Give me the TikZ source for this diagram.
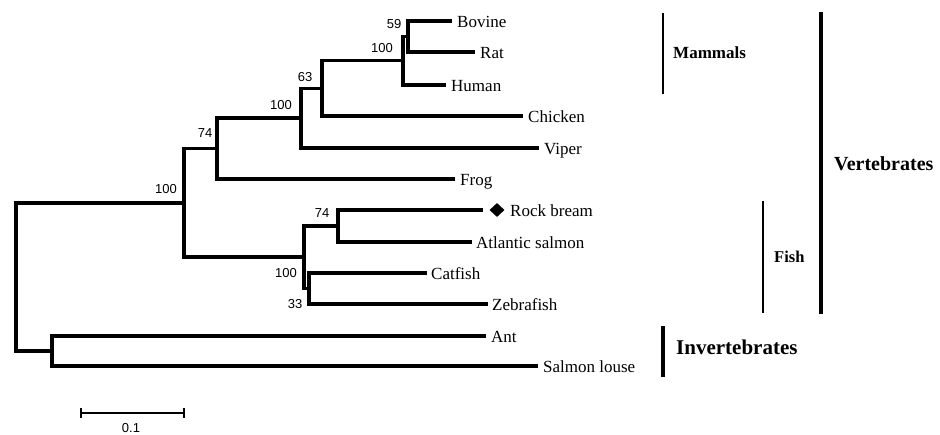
\documentclass[tikz,border=0pt]{standalone}
\usepackage{fontspec}
\setmainfont{Liberation Serif}
\newfontfamily\bsfont{Liberation Sans}
\usetikzlibrary{shapes.geometric}
\begin{document}
\begin{tikzpicture}[x=1pt,y=-1pt,
  br/.style={line width=3.4pt},
  leaf/.style={anchor=west,inner sep=0pt,text height=12pt,text depth=0pt,font=\fontsize{17}{20}\selectfont},
  boot/.style={inner sep=0pt,font=\bsfont\fontsize{13}{15}\selectfont},
  grp/.style={anchor=base west,inner sep=0pt,font=\bfseries\fontsize{#1}{#1}\selectfont},
  thinbar/.style={line width=2.2pt},
  thickbar/.style={line width=3.8pt}
]
\useasboundingbox (0,0) rectangle (940,434);

% internal nodes
\coordinate (nBR)   at (408,36.5);
\coordinate (nMam)  at (403,60.75);
\coordinate (n63)   at (322,88.5);
\coordinate (nV)    at (301,118);
\coordinate (n74)   at (217,148.5);
\coordinate (nF74)  at (338,226);
\coordinate (nCZ)   at (309,288.5);
\coordinate (nFish) at (304,257);
\coordinate (nVert) at (184,203);
\coordinate (nInv)  at (52,351);
\coordinate (root)  at (16,277);

% leaf tips
\coordinate (tBov) at (452,21);
\coordinate (tRat) at (475,52);
\coordinate (tHum) at (446,85);
\coordinate (tChi) at (523,116);
\coordinate (tVip) at (539,148);
\coordinate (tFro) at (455,179);
\coordinate (tRoc) at (483,210);
\coordinate (tAtl) at (472,242);
\coordinate (tCat) at (427,273);
\coordinate (tZeb) at (488,304);
\coordinate (tAnt) at (486,336);
\coordinate (tSal) at (538,366);

% leaf labels
\node[leaf] (bovine) at ([xshift=5pt]tBov) {Bovine};
\node[leaf] (rat) at ([xshift=5pt]tRat) {Rat};
\node[leaf] (human) at ([xshift=5pt]tHum) {Human};
\node[leaf] (chicken) at ([xshift=5pt]tChi) {Chicken};
\node[leaf] (viper) at ([xshift=5pt]tVip) {Viper};
\node[leaf] (frog) at ([xshift=5pt]tFro) {Frog};
\node[diamond,fill=black,inner sep=0pt,minimum width=15pt,minimum height=14pt] (dia) at (497,210) {};
\node[leaf] (rock) at (510,210) {Rock bream};
\node[leaf] (atl) at ([xshift=4pt]tAtl) {Atlantic salmon};
\node[leaf] (cat) at ([xshift=4pt]tCat) {Catfish};
\node[leaf] (zeb) at ([xshift=4pt]tZeb) {Zebrafish};
\node[leaf] (ant) at ([xshift=5pt]tAnt) {Ant};
\node[leaf] (sal) at ([xshift=5pt]tSal) {Salmon louse};

% branches
\draw[br] (nBR) |- (tBov);
\draw[br] (nBR) |- (tRat);
\draw[br] (nMam) |- (nBR);
\draw[br] (nMam) |- (tHum);
\draw[br] (n63) |- (nMam);
\draw[br] (n63) |- (tChi);
\draw[br] (nV) |- (n63);
\draw[br] (nV) |- (tVip);
\draw[br] (n74) |- (nV);
\draw[br] (n74) |- (tFro);
\draw[br] (nF74) |- (tRoc);
\draw[br] (nF74) |- (tAtl);
\draw[br] (nCZ) |- (tCat);
\draw[br] (nCZ) |- (tZeb);
\draw[br] (nFish) |- (nF74);
\draw[br] (nFish) |- (nCZ);
\draw[br] (nVert) |- (n74);
\draw[br] (nVert) |- (nFish);
\draw[br] (nInv) |- (tAnt);
\draw[br] (nInv) |- (tSal);
\draw[br] (root) |- (nVert);
\draw[br] (root) |- (nInv);

% bootstrap values
\node[boot] (b59) at (394,24) {59};
\node[boot] (b100a) at (382,48) {100};
\node[boot] (b63) at (305,77) {63};
\node[boot] (b100b) at (281,105) {100};
\node[boot] (b74a) at (205,133) {74};
\node[boot] (b100c) at (166,189) {100};
\node[boot] (b74b) at (322,213) {74};
\node[boot] (b100d) at (286,273) {100};
\node[boot] (b33) at (295,304) {33};

% scale bar
\coordinate (sb1) at (81,413);
\coordinate (sb2) at (184,413);
\draw[line width=1.4pt] (sb1) -- (sb2);
\draw[line width=1.4pt] ([yshift=5pt]sb1) -- ([yshift=-5pt]sb1);
\draw[line width=1.4pt] ([yshift=5pt]sb2) -- ([yshift=-5pt]sb2);
\node[boot] (sblab) at (131,428) {0.1};

% group bars
\coordinate (mamT) at (663,13); \coordinate (mamB) at (663,94);
\draw[thinbar] (mamT) -- (mamB);
\node[grp=17] (mammals) at (673,58) {Mammals};
\coordinate (fisT) at (763,201); \coordinate (fisB) at (763,313);
\draw[thinbar] (fisT) -- (fisB);
\node[grp=16.5] (fish) at (774,262) {Fish};
\coordinate (verT) at (821,12); \coordinate (verB) at (821,314);
\draw[thickbar] (verT) -- (verB);
\node[grp=20] (vert) at (834,170) {Vertebrates};
\coordinate (invT) at (663,326); \coordinate (invB) at (663,377);
\draw[thickbar] (invT) -- (invB);
\node[grp=21] (inv) at (676,354) {Invertebrates};
\end{tikzpicture}
\end{document}
